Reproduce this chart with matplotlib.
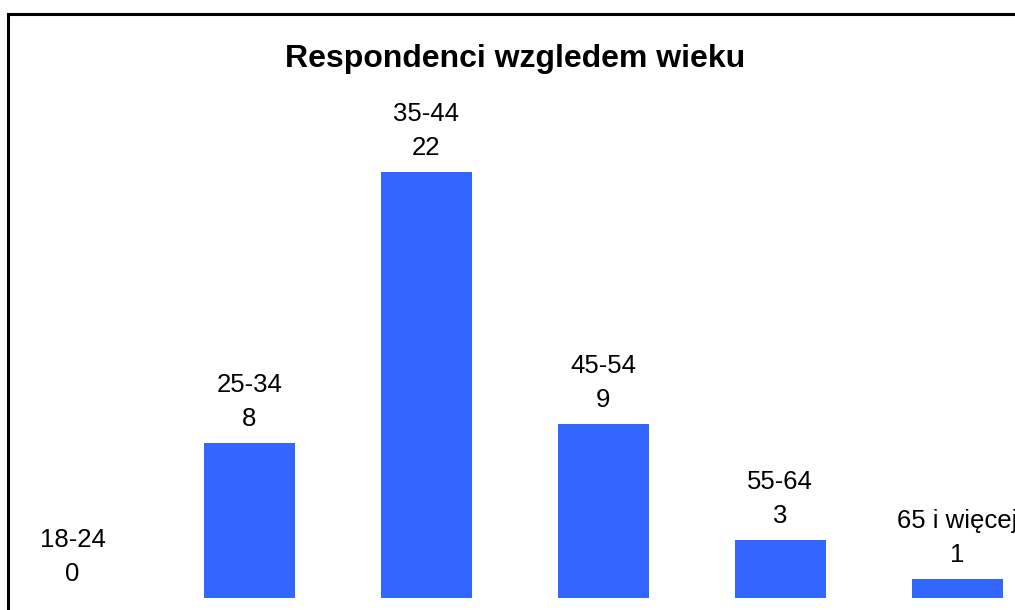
import matplotlib.pyplot as plt
from matplotlib.lines import Line2D

# dane
kategorie = ['18-24', '25-34', '35-44', '45-54', '55-64', '65 i więcej']
liczba = [0, 8, 22, 9, 3, 1]

plt.rcParams['font.family'] = ['Liberation Sans', 'DejaVu Sans']

fig = plt.figure(figsize=(10.15, 6.1), dpi=100)
ax = fig.add_axes([0, 0, 1, 1])

pozycje = list(range(len(kategorie)))
ax.bar(pozycje, liczba, width=0.514, color='#3366FF')

# etykiety nad slupkami
for x, k, v in zip(pozycje, kategorie, liczba):
    ax.annotate(str(v), (x, v), xytext=(0, 12.2), textcoords='offset points',
                ha='center', va='baseline', fontsize=18.5, color='black')
    ax.annotate(k, (x, v), xytext=(0, 36.8), textcoords='offset points',
                ha='center', va='baseline', fontsize=18.5, color='black')

ax.set_xlim(-0.4104, 5.327)
ax.set_ylim(-12 / 19.35, (610 - 12) / 19.35)
ax.axis('off')

# tytul
fig.text(515 / 1015, 1 - 66.5 / 610, 'Respondenci wzgledem wieku',
         ha='center', va='baseline', fontsize=23, fontweight='bold')

# ramka wykresu (przycieta z prawej i z dolu)
fig.add_artist(Line2D([8 / 1015, 8 / 1015], [-0.1, 1 - 14 / 610],
                      transform=fig.transFigure, color='black', lw=2.2))
fig.add_artist(Line2D([8 / 1015, 1.1], [1 - 14 / 610, 1 - 14 / 610],
                      transform=fig.transFigure, color='black', lw=2.2))

fig.savefig('out.png', dpi=100)
